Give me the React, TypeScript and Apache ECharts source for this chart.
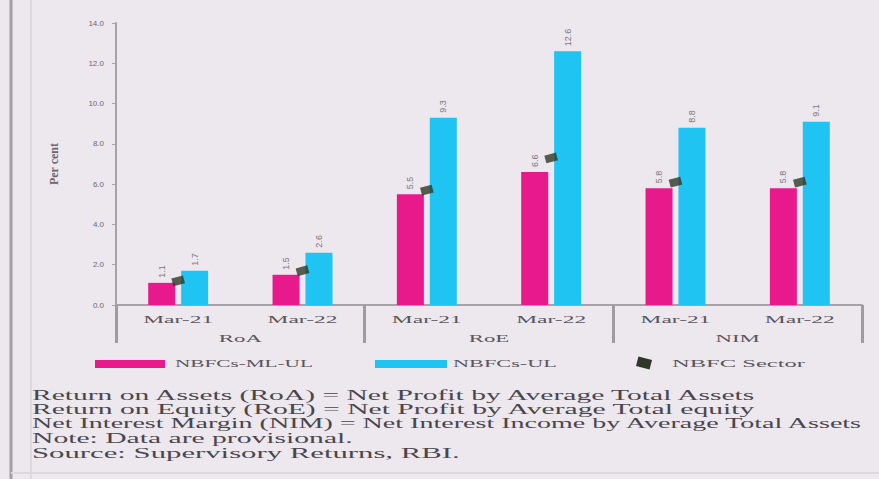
import React, { useEffect, useRef } from 'react';
import * as echarts from 'echarts';

// ---------- data ----------
const periods = ['Mar-21', 'Mar-22', 'Mar-21', 'Mar-22', 'Mar-21', 'Mar-22'];
const groups = ['RoA', 'RoE', 'NIM'];
const seriesNames = ['NBFCs-ML-UL', 'NBFCs-UL', 'NBFC Sector'];
const mlValues = [1.1, 1.5, 5.5, 6.6, 5.8, 5.8];
const ulValues = [1.7, 2.6, 9.3, 12.6, 8.8, 9.1];
const sectorValues = [1.2, 1.7, 5.7, 7.3, 6.1, 6.1];
const yMin = 0;
const yMax = 14;
const yInterval = 2;
const yName = 'Per cent';
const footnotes = [
  'Return on Assets (RoA) = Net Profit by Average Total Assets',
  'Return on Equity (RoE) = Net Profit by Average Total equity',
  'Net Interest Margin (NIM) = Net Interest Income by Average Total Assets',
  'Note: Data are provisional.',
  'Source: Supervisory Returns, RBI.',
];

// ---------- style ----------
const PINK = '#e8198b';
const CYAN = '#1fc4f3';
const DARK = '#2d3826';
const BG = '#ece8ee';
const AXIS = '#a6a2a8';
const TEXT = '#4a464c';

let measureCtx: CanvasRenderingContext2D | null = null;
function textWidth(text: string, font: string): number {
  if (!measureCtx) measureCtx = document.createElement('canvas').getContext('2d');
  if (!measureCtx) return text.length * 6;
  measureCtx.font = font;
  return measureCtx.measureText(text).width;
}

function stretchedText(text: string, x: number, y: number, targetW: number, size: number, color: string, align: string, family = 'Liberation Serif', weight = 'normal') {
  const font = `${weight} ${size}px "${family}"`;
  const w = textWidth(text, font);
  return {
    type: 'text',
    x,
    y,
    scaleX: targetW / w,
    silent: true,
    style: {
      text,
      fontSize: size,
      fontFamily: family,
      fontWeight: weight,
      fill: color,
      textAlign: align,
      align,
      textVerticalAlign: 'middle',
      verticalAlign: 'middle',
    },
  };
}

export default function App() {
  const ref = useRef<HTMLDivElement>(null);
  useEffect(() => {
    if (!ref.current) return;
    const chart = echarts.init(ref.current, null, { renderer: 'svg' });
    const barLabel = {
      show: true,
      position: 'top',
      rotate: 90,
      align: 'left',
      verticalAlign: 'middle',
      distance: 5,
      fontSize: 9,
      fontFamily: 'Liberation Sans',
      color: '#7a767c',
      formatter: (p: any) => Number(p.value).toFixed(1),
    };
    chart.setOption({
      animation: false,
      backgroundColor: BG,
      grid: { left: 116, right: 17, top: 23, bottom: 174, containLabel: false },
      xAxis: [
        {
          type: 'category',
          data: periods,
          axisLine: { show: true, lineStyle: { color: AXIS, width: 2 } },
          axisTick: { show: false },
          axisLabel: { show: false },
        },
        {
          type: 'category',
          data: groups,
          position: 'bottom',
          axisLine: { show: false },
          axisTick: { show: true, length: 38, interval: 0, lineStyle: { color: '#9f9ba1', width: 3 } },
          axisLabel: { show: false },
        },
      ],
      yAxis: {
        type: 'value',
        min: yMin,
        max: yMax,
        interval: yInterval,
        name: yName,
        nameLocation: 'middle',
        nameGap: 56,
        nameTextStyle: { fontSize: 12, fontFamily: 'Liberation Serif', fontWeight: 'bold', color: '#6a666c' },
        axisLine: { show: true, lineStyle: { color: AXIS, width: 2 } },
        axisTick: { show: true, length: 4, lineStyle: { color: AXIS } },
        axisLabel: { fontSize: 8, color: '#6b676d', margin: 12, fontFamily: 'Liberation Sans', formatter: (v: number) => v.toFixed(1) },
        splitLine: { show: false },
      },
      series: [
        { name: seriesNames[0], type: 'bar', data: mlValues, barWidth: 27, barGap: '22%', itemStyle: { color: PINK }, label: barLabel },
        { name: seriesNames[1], type: 'bar', data: ulValues, barWidth: 27, barGap: '22%', itemStyle: { color: CYAN }, label: barLabel },
        { name: seriesNames[2], type: 'scatter', data: sectorValues, symbol: 'rect', symbolSize: [12, 8], symbolRotate: 15, itemStyle: { color: DARK }, z: 5 },
      ],
    });

    const zeroY = chart.convertToPixel({ yAxisIndex: 0 }, 0) as number;
    const g: any[] = [];
    // frame lines
    g.push({ type: 'line', silent: true, shape: { x1: 11, y1: 0, x2: 11, y2: 479 }, style: { stroke: '#a29ea4', lineWidth: 3 } });
    g.push({ type: 'line', silent: true, shape: { x1: 31, y1: 0, x2: 31, y2: 479 }, style: { stroke: '#dcd8de', lineWidth: 2 } });
    g.push({ type: 'line', silent: true, shape: { x1: 11, y1: 473, x2: 879, y2: 473 }, style: { stroke: '#dcd8de', lineWidth: 2 } });
    // category labels
    periods.forEach((p, i) => {
      const x = chart.convertToPixel({ xAxisIndex: 0 }, i) as number;
      g.push(stretchedText(p, x, zeroY + 15, 70 * textWidth(p, 'normal 10px "Liberation Serif"') / textWidth('Mar-21', 'normal 10px "Liberation Serif"'), 10, '#5a565c', 'center'));
    });
    groups.forEach((gr, i) => {
      const x = chart.convertToPixel({ xAxisIndex: 1 }, i) as number;
      g.push(stretchedText(gr, x, zeroY + 34, 43 * textWidth(gr, 'normal 10px "Liberation Serif"') / textWidth('RoA', 'normal 10px "Liberation Serif"'), 10, '#5a565c', 'center'));
    });
    // legend
    g.push({ type: 'rect', silent: true, shape: { x: 95, y: 360, width: 70, height: 8 }, style: { fill: PINK } });
    g.push(stretchedText(seriesNames[0], 175, 364, 138, 10, '#5a565c', 'left'));
    g.push({ type: 'rect', silent: true, shape: { x: 375, y: 360, width: 72, height: 8 }, style: { fill: CYAN } });
    g.push(stretchedText(seriesNames[1], 453, 364, 104, 10, '#5a565c', 'left'));
    g.push({ type: 'rect', silent: true, x: 644, y: 363, rotation: -0.25, shape: { x: -7, y: -5, width: 14, height: 10 }, style: { fill: DARK } });
    g.push(stretchedText(seriesNames[2], 672, 364, 133, 10, '#5a565c', 'left'));
    // footnotes
    const fnWidths = [728, 725, 833, 321, 428];
    const fnY = [395, 409, 423, 438, 453];
    footnotes.forEach((t, i) => {
      g.push(stretchedText(t, 32, fnY[i], fnWidths[i], 14, TEXT, 'left'));
    });
    chart.setOption({ graphic: g });

    return () => chart.dispose();
  }, []);
  return <div ref={ref} style={{ width: 879, height: 479, position: 'absolute', left: 0, top: 0 }} />;
}
